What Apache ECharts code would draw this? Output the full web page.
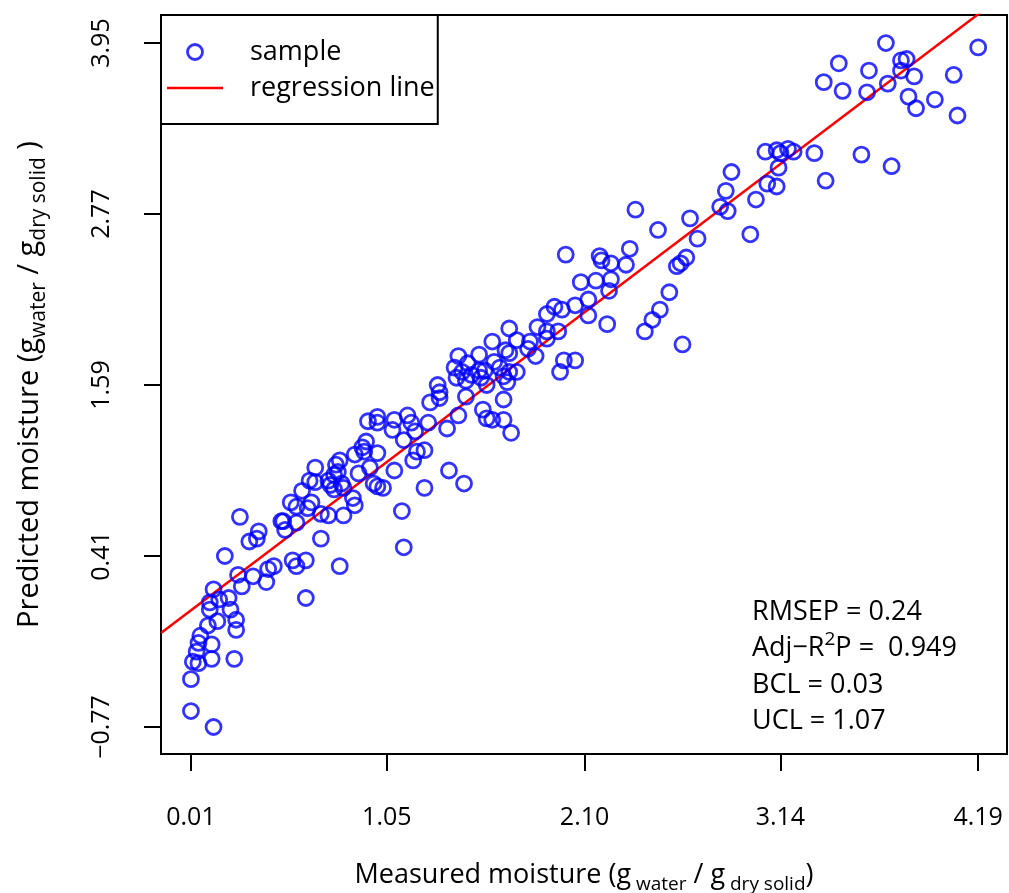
<!DOCTYPE html>
<html>
<head>
<meta charset="utf-8">
<script src="https://cdn.jsdelivr.net/npm/echarts@6/dist/echarts.min.js"></script>
<style>
html,body{margin:0;padding:0;background:#fff;}
#chart{width:1009px;height:893px;}
</style>
</head>
<body>
<div id="chart"></div>
<script>
// ---- data ----
const measured = [
 0.01,0.01,0.13,0.02,0.05,0.12,0.24,0.04,0.12,0.05,
 0.06,0.10,0.15,0.25,0.25,0.11,0.22,0.11,0.16,0.21,
 0.13,0.28,0.26,0.34,0.41,0.42,0.45,0.19,0.32,0.36,
 0.37,0.27,0.49,0.50,0.51,0.57,0.55,0.57,0.62,0.62,
 0.70,0.54,0.57,0.60,0.63,0.65,0.64,0.67,0.67,0.74,
 0.75,0.77,0.78,0.79,0.77,0.81,0.82,0.80,0.74,0.82,
 0.70,0.80,0.87,0.88,0.88,0.90,0.92,0.94,0.93,0.96,
 1.00,0.98,1.00,1.03,1.09,0.95,1.00,1.00,1.09,1.08,
 1.14,1.16,1.18,1.20,1.19,1.25,1.27,1.28,1.33,1.37,
 1.38,1.25,1.13,1.14,1.46,1.21,1.32,1.33,1.47,1.43,
 1.56,1.58,1.61,1.67,1.71,1.67,1.43,1.48,1.41,1.45,
 1.42,1.47,1.50,1.54,1.57,1.55,1.58,1.62,1.65,1.67,
 1.69,1.74,1.70,1.54,1.61,1.68,1.70,1.70,1.74,1.81,
 1.80,1.84,1.85,1.90,1.96,1.90,1.94,1.98,2.05,1.99,
 2.05,1.97,1.90,2.00,2.18,2.19,2.24,2.34,2.32,2.08,
 2.16,2.24,2.23,2.12,2.12,2.22,2.49,2.66,2.70,2.55,
 2.50,2.46,2.42,2.62,2.59,2.61,2.64,2.37,2.88,2.85,
 2.82,2.86,3.01,2.98,3.06,3.12,3.14,3.18,3.21,3.13,
 3.07,3.12,3.70,3.45,3.61,3.78,3.81,3.78,3.85,4.06,
 4.19,3.37,3.47,3.60,3.71,3.82,3.86,3.96,4.08,3.32,
 3.57,3.73,3.38
];
const predicted = [
 -0.44,-0.66,-0.77,-0.32,-0.33,-0.30,-0.30,-0.25,-0.20,-0.19,
 -0.14,-0.07,-0.04,-0.03,-0.10,0.04,0.04,0.09,0.11,0.12,
 0.18,0.20,0.28,0.27,0.23,0.32,0.34,0.41,0.51,0.53,
 0.58,0.68,0.65,0.65,0.59,0.64,0.38,0.34,0.38,0.12,
 0.53,0.78,0.75,0.86,0.74,0.78,0.93,1.02,0.92,0.93,
 0.90,0.87,1.04,0.99,0.97,0.91,0.88,1.07,0.69,0.69,
 0.70,0.34,0.81,0.76,1.11,0.98,1.16,1.20,1.13,1.02,
 1.12,0.91,0.89,0.88,1.00,1.34,1.37,1.33,1.35,1.28,
 1.21,1.38,1.33,1.27,1.07,1.14,1.33,1.47,1.50,1.29,
 1.00,0.88,0.72,0.47,0.91,1.13,1.59,1.54,1.51,1.38,
 1.42,1.36,1.35,1.35,1.26,1.49,1.79,1.74,1.71,1.68,
 1.64,1.62,1.66,1.69,1.69,1.64,1.59,1.75,1.71,1.65,
 1.61,1.68,1.68,1.80,1.89,1.83,1.81,1.98,1.90,1.89,
 1.84,1.79,1.99,1.96,1.96,2.08,2.13,2.11,2.14,1.76,
 1.76,1.68,1.91,2.49,2.48,2.45,2.43,2.53,2.42,2.30,
 2.31,2.32,2.24,2.18,2.07,2.01,2.66,2.74,2.60,2.23,
 2.11,2.04,1.96,1.87,2.41,2.43,2.47,2.80,3.06,2.93,
 2.82,2.79,2.87,2.63,3.20,3.21,3.19,3.22,3.20,3.09,
 2.98,2.96,3.95,3.81,3.76,3.83,3.84,3.76,3.72,3.73,
 3.92,3.68,3.62,3.61,3.67,3.58,3.50,3.56,3.45,3.19,
 3.18,3.10,3.00
];
const xTicks = [0.01, 1.05, 2.10, 3.14, 4.19];
const yTicks = [-0.77, 0.41, 1.59, 2.77, 3.95];
const xRange = [-0.149, 4.343];
const yRange = [-0.9565, 4.1435];
const regIntercept = 0.026;
const regSlope = 0.984;
const seriesNames = ['sample', 'regression line'];
const statLines = [
  'RMSEP = 0.24',
  'Adj\u2212R{sup|2}P =  0.949',
  'BCL = 0.03',
  'UCL = 1.07'
];

// ---- build ----
const FONT = '"Open Sans", "Noto Sans", sans-serif';
const pts = measured.map((x, i) => [x, predicted[i]]);
const regData = xRange.map(x => [x, regIntercept + regSlope * x]);
const fmt = v => v.toFixed(2).replace('-', '\u2212');

const xTitleRich = {
  n: {fontSize: 27, fontFamily: FONT, color: '#000', lineHeight: 38, verticalAlign: 'middle'},
  s: {fontSize: 19, fontFamily: FONT, color: '#000', lineHeight: 22, verticalAlign: 'bottom'}
};
const yTitleRich = {
  n: {fontSize: 29, fontFamily: FONT, color: '#000', lineHeight: 40, verticalAlign: 'middle'},
  s: {fontSize: 21, fontFamily: FONT, color: '#000', lineHeight: 24, verticalAlign: 'bottom'}
};

const chart = echarts.init(document.getElementById('chart'), null, {renderer: 'canvas'});
chart.setOption({
  animation: false,
  backgroundColor: '#fff',
  grid: {
    left: 161, right: 2, top: 15, bottom: 139,
    outerBoundsMode: 'none', containLabel: false,
    show: true, borderColor: '#000', borderWidth: 2, backgroundColor: 'transparent'
  },
  xAxis: {
    type: 'value', min: xRange[0], max: xRange[1],
    axisLine: {show: false, onZero: false},
    splitLine: {show: false},
    axisTick: {show: true, customValues: xTicks, length: 17, lineStyle: {color: '#000', width: 2}},
    axisLabel: {customValues: xTicks, formatter: fmt, margin: 51, fontSize: 25, fontFamily: FONT, color: '#000'},
    name: '{n|Measured moisture (g}{s| water}{n| / g}{s| dry solid}{n|)}',
    nameLocation: 'middle', nameGap: 102,
    nameTextStyle: {rich: xTitleRich}
  },
  yAxis: {
    type: 'value', min: yRange[0], max: yRange[1],
    axisLine: {show: false, onZero: false},
    splitLine: {show: false},
    axisTick: {show: true, customValues: yTicks, length: 17, lineStyle: {color: '#000', width: 2}},
    axisLabel: {customValues: yTicks, formatter: fmt, rotate: 90, margin: 47, fontSize: 25, fontFamily: FONT, color: '#000'},
    name: '{n|Predicted moisture (g}{s|water}{n| / g}{s|dry solid}{n| )}',
    nameLocation: 'middle', nameGap: 111,
    nameTextStyle: {rich: yTitleRich}
  },
  legend: {
    left: 161, top: 15, orient: 'vertical',
    data: [
      {name: seriesNames[0], itemStyle: {color: 'rgba(0,0,0,0)', borderColor: '#0000ff', borderWidth: 2.8}},
      {name: seriesNames[1], icon: 'path://M0,0H56V2.6H0Z'}
    ],
    itemWidth: 56, itemHeight: 15, itemGap: 6,
    padding: [22, 3, 21, 6],
    borderColor: '#000', borderWidth: 2, backgroundColor: '#fff',
    textStyle: {fontSize: 27, lineHeight: 30, fontFamily: FONT, color: '#000', padding: [0, 0, 0, 22]}
  },
  series: [
    {
      name: seriesNames[0], type: 'scatter', data: pts,
      symbol: 'circle', symbolSize: 15,
      itemStyle: {color: 'rgba(0,0,0,0)', borderColor: '#0000ff', borderWidth: 2.8},
      z: 3
    },
    {
      name: seriesNames[1], type: 'line', data: regData,
      showSymbol: false, symbol: 'none', clip: true,
      lineStyle: {color: '#ff0000', width: 2.5},
      itemStyle: {color: '#ff0000'},
      z: 2
    }
  ],
  graphic: statLines.map((t, i) => ({
    type: 'text', left: 752, top: 594 + i * 36.5, z: 10,
    style: {
      text: t, fill: '#000',
      font: '27px ' + FONT,
      lineHeight: 36,
      rich: {
        sup: {fontSize: 19, fontFamily: FONT, fill: '#000', verticalAlign: 'top', lineHeight: 36},
      }
    }
  }))
});
</script>
</body>
</html>
